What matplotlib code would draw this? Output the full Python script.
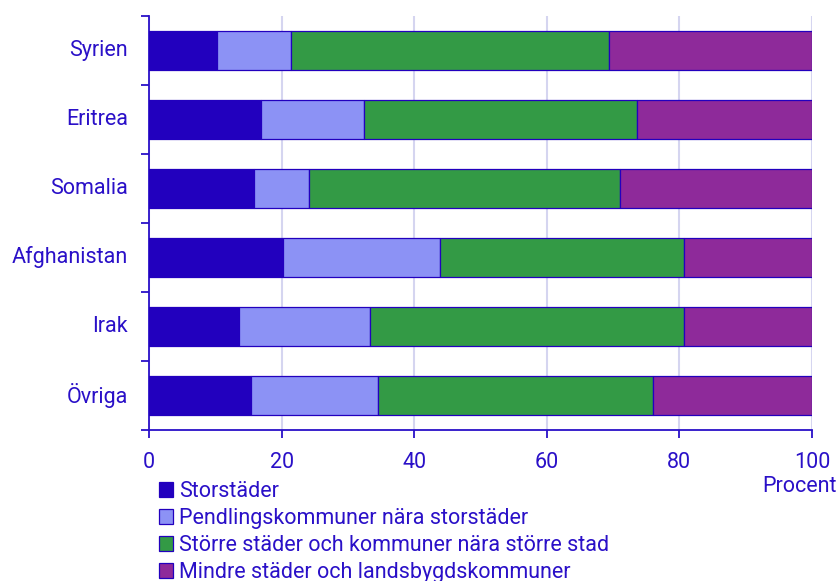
import matplotlib.pyplot as plt
import numpy as np
from matplotlib.patches import Patch

plt.rcParams['font.family'] = ['Roboto', 'DejaVu Sans']

countries = ['Syrien', 'Eritrea', 'Somalia', 'Afghanistan', 'Irak', 'Övriga']
storstader = [10.3, 16.9, 15.8, 20.2, 13.6, 15.4]
pendling = [11.1, 15.5, 8.4, 23.7, 19.7, 19.2]
storre = [48.0, 41.2, 46.8, 36.8, 47.4, 41.4]
mindre = [30.6, 26.4, 29.0, 19.3, 19.3, 24.0]
series_names = ['Storstäder', 'Pendlingskommuner nära storstäder',
                'Större städer och kommuner nära större stad',
                'Mindre städer och landsbygdskommuner']
xticks = [0, 20, 40, 60, 80, 100]

colors = ['#2200BE', '#8C92F5', '#339A45', '#8E2A9A']
txt = '#2A10C8'
fs = 15.5

fig = plt.figure(figsize=(8.38, 5.81), dpi=100)
ax = fig.add_axes([149 / 838, 1 - 430 / 581, 663 / 838, 414 / 581])

y = np.arange(len(countries))
left = np.zeros(len(countries))
for vals, col in zip([storstader, pendling, storre, mindre], colors):
    ax.barh(y, vals, left=left, height=0.565, color=col,
            edgecolor='#2200BE', linewidth=0.9, zorder=3)
    left += np.array(vals)

ax.set_xlim(0, 100)
ax.set_ylim(len(countries) - 0.5, -0.5)
ax.set_xticks(xticks)
ax.set_yticks(y)
ax.set_yticklabels(countries)
ax.set_yticks(np.arange(len(countries) + 1) - 0.5, minor=True)
ax.tick_params(axis='y', which='major', length=0, pad=15, labelsize=fs, labelcolor=txt)
ax.tick_params(axis='y', which='minor', length=6, width=1.3, color=txt, direction='out')
ax.tick_params(axis='x', length=6, width=1.3, color=txt, pad=10, labelsize=fs, labelcolor=txt)
for lab in ax.get_yticklabels():
    lab.set_verticalalignment('center')

ax.grid(axis='x', color='#D5D5F0', linewidth=1.5, zorder=0)
for s in ['top', 'right']:
    ax.spines[s].set_visible(False)
for s in ['left', 'bottom']:
    ax.spines[s].set_color(txt)
    ax.spines[s].set_linewidth(1.3)

fig.text(0.998, 1 - 487 / 581, 'Procent', ha='right', va='center', fontsize=fs, color=txt)

handles = [Patch(facecolor=c, edgecolor='#2200BE', linewidth=0.9) for c in colors]
leg = fig.legend(handles, series_names, loc='upper left', bbox_to_anchor=(159 / 838, 1 - 481 / 581),
                 frameon=False, borderaxespad=0, borderpad=0, handlelength=0.65, handleheight=0.65,
                 handletextpad=0.3, labelspacing=0.28, fontsize=fs)
for t in leg.get_texts():
    t.set_color(txt)

fig.savefig('out.png', dpi=100)
